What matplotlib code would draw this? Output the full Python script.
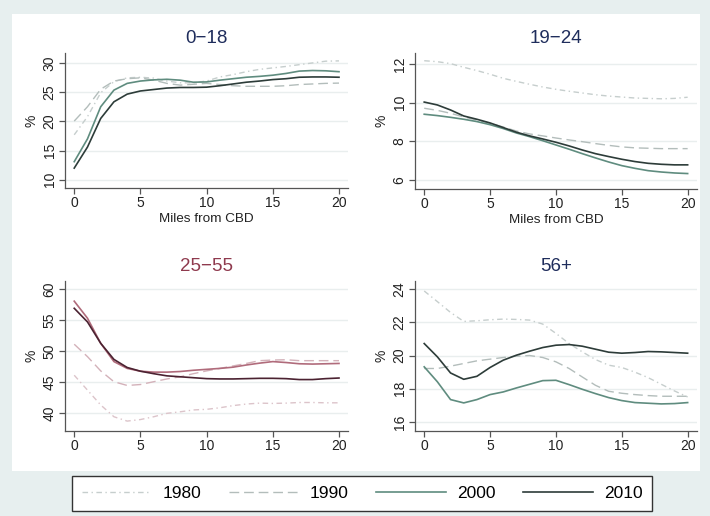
import matplotlib.pyplot as plt
from matplotlib.patches import Rectangle

plt.rcParams['font.family'] = ['Liberation Sans', 'DejaVu Sans']

# 横轴：离市中心的英里数
miles = [0, 1, 2, 3, 4, 5, 6, 7, 8, 9, 10, 11, 12, 13, 14, 15, 16, 17, 18, 19, 20]
years = ['1980', '1990', '2000', '2010']

# 0-18 岁
age0_18_1980 = [17.7, 20.8, 24.9, 26.8, 27.45, 27.55, 27.4, 26.9, 26.6, 26.6, 26.9,
                27.6, 28.0, 28.5, 28.9, 29.15, 29.4, 29.7, 30.0, 30.3, 30.35]
age0_18_1990 = [20.05, 22.5, 25.5, 26.9, 27.3, 27.45, 27.05, 26.5, 26.2, 26.35, 26.5,
                26.3, 26.1, 26.0, 26.0, 26.0, 26.1, 26.3, 26.4, 26.5, 26.55]
age0_18_2000 = [13.1, 17.0, 22.5, 25.35, 26.5, 26.9, 27.1, 27.2, 27.05, 26.7, 26.75,
                27.05, 27.3, 27.55, 27.7, 27.9, 28.2, 28.6, 28.7, 28.65, 28.5]
age0_18_2010 = [12.0, 15.6, 20.5, 23.35, 24.66, 25.2, 25.45, 25.7, 25.8, 25.8, 25.85,
                26.1, 26.4, 26.7, 26.9, 27.15, 27.3, 27.55, 27.6, 27.6, 27.55]

# 19-24 岁
age19_24_1980 = [12.17, 12.12, 12.02, 11.83, 11.66, 11.47, 11.26, 11.1, 10.95, 10.81, 10.69,
                 10.59, 10.5, 10.41, 10.34, 10.29, 10.24, 10.22, 10.2, 10.22, 10.28]
age19_24_1990 = [9.71, 9.6, 9.45, 9.26, 9.1, 8.93, 8.74, 8.53, 8.38, 8.28, 8.17,
                 8.07, 7.98, 7.88, 7.79, 7.71, 7.66, 7.64, 7.62, 7.62, 7.62]
age19_24_2000 = [9.4, 9.33, 9.24, 9.14, 9.02, 8.86, 8.66, 8.43, 8.24, 8.03, 7.81,
                 7.59, 7.36, 7.14, 6.93, 6.74, 6.6, 6.48, 6.41, 6.36, 6.33]
age19_24_2010 = [10.03, 9.88, 9.62, 9.31, 9.14, 8.95, 8.71, 8.47, 8.28, 8.12, 7.95,
                 7.76, 7.55, 7.36, 7.21, 7.07, 6.95, 6.86, 6.81, 6.78, 6.78]

# 25-55 岁
age25_55_1980 = [46.1, 43.7, 41.3, 39.4, 38.7, 38.95, 39.4, 39.95, 40.2, 40.5, 40.6,
                 40.85, 41.2, 41.45, 41.6, 41.55, 41.6, 41.7, 41.7, 41.65, 41.65]
age25_55_1990 = [51.1, 49.1, 46.8, 45.05, 44.45, 44.6, 45.05, 45.5, 45.85, 46.35, 46.8,
                 47.2, 47.6, 48.0, 48.45, 48.55, 48.6, 48.45, 48.45, 48.45, 48.45]
age25_55_2000 = [58.05, 55.3, 51.25, 48.3, 47.2, 46.75, 46.6, 46.6, 46.7, 46.9, 47.05,
                 47.2, 47.4, 47.75, 48.05, 48.3, 48.15, 47.95, 47.9, 47.95, 48.0]
age25_55_2010 = [56.9, 54.7, 51.25, 48.65, 47.35, 46.75, 46.35, 46.0, 45.85, 45.7, 45.55,
                 45.5, 45.5, 45.55, 45.6, 45.6, 45.55, 45.4, 45.4, 45.55, 45.65]

# 56 岁以上
age56_1980 = [23.88, 23.24, 22.59, 22.05, 22.09, 22.15, 22.19, 22.17, 22.13, 21.89, 21.33,
              20.72, 20.22, 19.76, 19.42, 19.28, 19.0, 18.67, 18.27, 17.87, 17.51]
age56_1990 = [19.22, 19.22, 19.36, 19.52, 19.68, 19.78, 19.88, 19.96, 20.0, 19.88, 19.62,
              19.22, 18.71, 18.21, 17.85, 17.73, 17.65, 17.59, 17.55, 17.55, 17.55]
age56_2000 = [19.32, 18.42, 17.35, 17.15, 17.35, 17.65, 17.81, 18.05, 18.27, 18.49, 18.51,
              18.25, 17.97, 17.71, 17.47, 17.29, 17.17, 17.13, 17.09, 17.11, 17.17]
age56_2010 = [20.72, 19.92, 18.95, 18.57, 18.75, 19.28, 19.72, 20.02, 20.26, 20.48, 20.62,
              20.66, 20.56, 20.38, 20.2, 20.14, 20.18, 20.24, 20.22, 20.18, 20.14]

teal = ['#c6cecd', '#b3bdbb', '#5f8c7f', '#2d3c39']
rose = ['#dcc4ca', '#d3b1b9', '#b06b7b', '#4b2231']
styles = [(0, (4, 2.5, 1, 2.5)), (0, (7, 3.5)), '-', '-']
widths = [1.0, 1.0, 1.2, 1.2]

fig = plt.figure(figsize=(7.1, 5.16), dpi=100)
fig.patch.set_facecolor('#e7efef')
# 白色的绘图区背景（放在坐标轴下面）
fig.patches.append(Rectangle((12 / 710, 1 - 471 / 516), 688 / 710, 457 / 516,
                             transform=fig.transFigure, facecolor='white',
                             edgecolor='none', zorder=-5))


def draw_panel(rect, title, tcolor, series, colors, ylim, yticks, xlabel):
    """画一个小图"""
    ax = fig.add_axes(rect)
    ax.patch.set_alpha(0)
    for i in range(4):
        ax.plot(miles, series[i], color=colors[i], linestyle=styles[i],
                lw=widths[i], label=years[i])
    ax.set_xlim(-0.7, 20.7)
    ax.set_ylim(ylim)
    ax.set_xticks([0, 5, 10, 15, 20])
    ax.set_yticks(yticks)
    ax.grid(axis='y', color='#e9eeee', lw=1.0)
    ax.set_axisbelow(True)
    for s in ['top', 'right']:
        ax.spines[s].set_visible(False)
    for s in ['left', 'bottom']:
        ax.spines[s].set_color('#555555')
        ax.spines[s].set_linewidth(0.9)
    ax.tick_params(colors='#555555', labelcolor='#222222', labelsize=10,
                   length=4, width=0.9, pad=2)
    for lab in ax.get_yticklabels():
        lab.set_rotation(90)
        lab.set_va('center')
    ax.set_ylabel('%', fontsize=10, color='#222222', labelpad=3)
    if xlabel:
        ax.set_xlabel('Miles from CBD', fontsize=9.7, color='#222222', labelpad=2)
    ax.set_title(title, fontsize=13.5, color=tcolor, pad=7)
    return ax


ax1 = draw_panel([0.0915, 0.6357, 0.399, 0.2616], '0\u221218', '#1f2d5c',
                 [age0_18_1980, age0_18_1990, age0_18_2000, age0_18_2010],
                 teal, (8.6, 31.7), [10, 15, 20, 25, 30], True)
draw_panel([0.5845, 0.6337, 0.397, 0.2636], '19\u221224', '#1f2d5c',
           [age19_24_1980, age19_24_1990, age19_24_2000, age19_24_2010],
           teal, (5.53, 12.57), [6, 8, 10, 12], True)
draw_panel([0.0915, 0.1647, 0.399, 0.2907], '25\u221255', '#8f3a4e',
           [age25_55_1980, age25_55_1990, age25_55_2000, age25_55_2010],
           rose, (37.1, 61.3), [40, 45, 50, 55, 60], False)
draw_panel([0.5845, 0.1647, 0.397, 0.2907], '56+', '#1f2d5c',
           [age56_1980, age56_1990, age56_2000, age56_2010],
           teal, (15.46, 24.48), [16, 18, 20, 22, 24], False)

handles, labels = ax1.get_legend_handles_labels()
leg = fig.legend(handles, labels, loc='center', ncol=4,
                 bbox_to_anchor=(362 / 710, 1 - 493.5 / 516),
                 fontsize=12.5, handlelength=4.0, handletextpad=0.65,
                 columnspacing=1.6, borderpad=0.55, fancybox=False,
                 framealpha=1, edgecolor='#333333')
leg.get_frame().set_linewidth(1.0)

fig.savefig('out.png', dpi=100, facecolor=fig.get_facecolor())
